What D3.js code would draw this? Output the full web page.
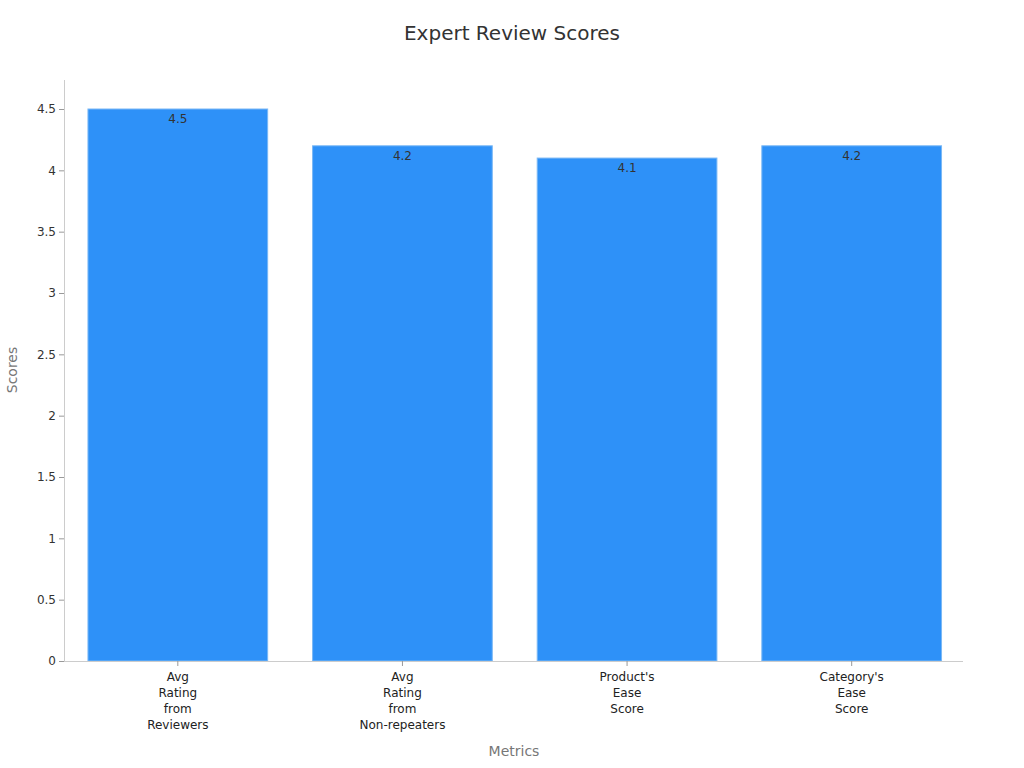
<!DOCTYPE html>
<html><head><meta charset="utf-8">
<script src="https://cdn.jsdelivr.net/npm/d3@7"></script>
<style>body{margin:0;background:#fff;font-family:"DejaVu Sans",sans-serif;}</style>
</head><body><svg id="c" width="1024" height="768"></svg>
<script>
const categories = [["Avg","Rating","from","Reviewers"],["Avg","Rating","from","Non-repeaters"],["Product's","Ease","Score"],["Category's","Ease","Score"]];
const values = [4.5, 4.2, 4.1, 4.2];
const yTicks = [0,0.5,1,1.5,2,2.5,3,3.5,4,4.5];
const title = "Expert Review Scores";
const xTitle = "Metrics", yTitle = "Scores";

const svg = d3.select("#c");
const m = {l:64, r:61, t:81.4, b:107};
const W = 1024, H = 768;
const x = d3.scaleBand().domain(d3.range(categories.length)).range([m.l+1.5, W-m.r+1]).paddingInner(0.2).paddingOuter(0.1);
const y = d3.scaleLinear().domain([0, 4.725]).range([H-m.b, m.t]);

svg.append("text").attr("x",512).attr("y",40).attr("text-anchor","middle").attr("font-size",20).attr("fill","#333").text(title);

svg.selectAll("rect.bar").data(values).join("rect").attr("class","bar")
  .attr("x",(d,i)=>x(i)).attr("width",x.bandwidth())
  .attr("y",d=>y(d)).attr("height",d=>y(0)-y(d))
  .attr("fill","#2e91f8").attr("stroke","#7ab8f5").attr("stroke-width",1);

svg.selectAll("text.val").data(values).join("text").attr("class","val")
  .attr("x",(d,i)=>x(i)+x.bandwidth()/2).attr("y",d=>y(d)+14)
  .attr("text-anchor","middle").attr("font-size",12).attr("fill","#333").text(d=>d);

const ya = svg.append("g").attr("transform",`translate(${m.l},0)`)
  .call(d3.axisLeft(y).tickValues(yTicks).tickSize(5).tickPadding(3).tickFormat(d=>d));
ya.select(".domain").attr("stroke","#ccc").attr("d",`M0.5,${H-m.b}V80`);
ya.selectAll(".tick line").attr("stroke","#999");
ya.selectAll(".tick text").attr("font-size",12).attr("fill","#333").attr("font-family","DejaVu Sans");

const xa = svg.append("g").attr("transform",`translate(0,${H-m.b})`)
  .call(d3.axisBottom(x).tickSize(5).tickFormat(""));
xa.select(".domain").attr("stroke","#ccc").attr("d",`M${m.l},0.5H${W-m.r}`);
xa.selectAll(".tick line").attr("stroke","#999");
xa.selectAll(".tick").each(function(d){
  const t = d3.select(this).append("text").attr("fill","#222").attr("font-size",12).attr("text-anchor","middle").attr("font-family","DejaVu Sans");
  categories[d].forEach((s,k)=>t.append("tspan").attr("x",0).attr("y",20+k*16).text(s));
});

svg.append("text").attr("x",514).attr("y",756).attr("text-anchor","middle").attr("font-size",14).attr("fill","#777").text(xTitle);
svg.append("text").attr("transform","translate(17,370) rotate(-90)").attr("text-anchor","middle").attr("font-size",14).attr("fill","#777").text(yTitle);
</script></body></html>
